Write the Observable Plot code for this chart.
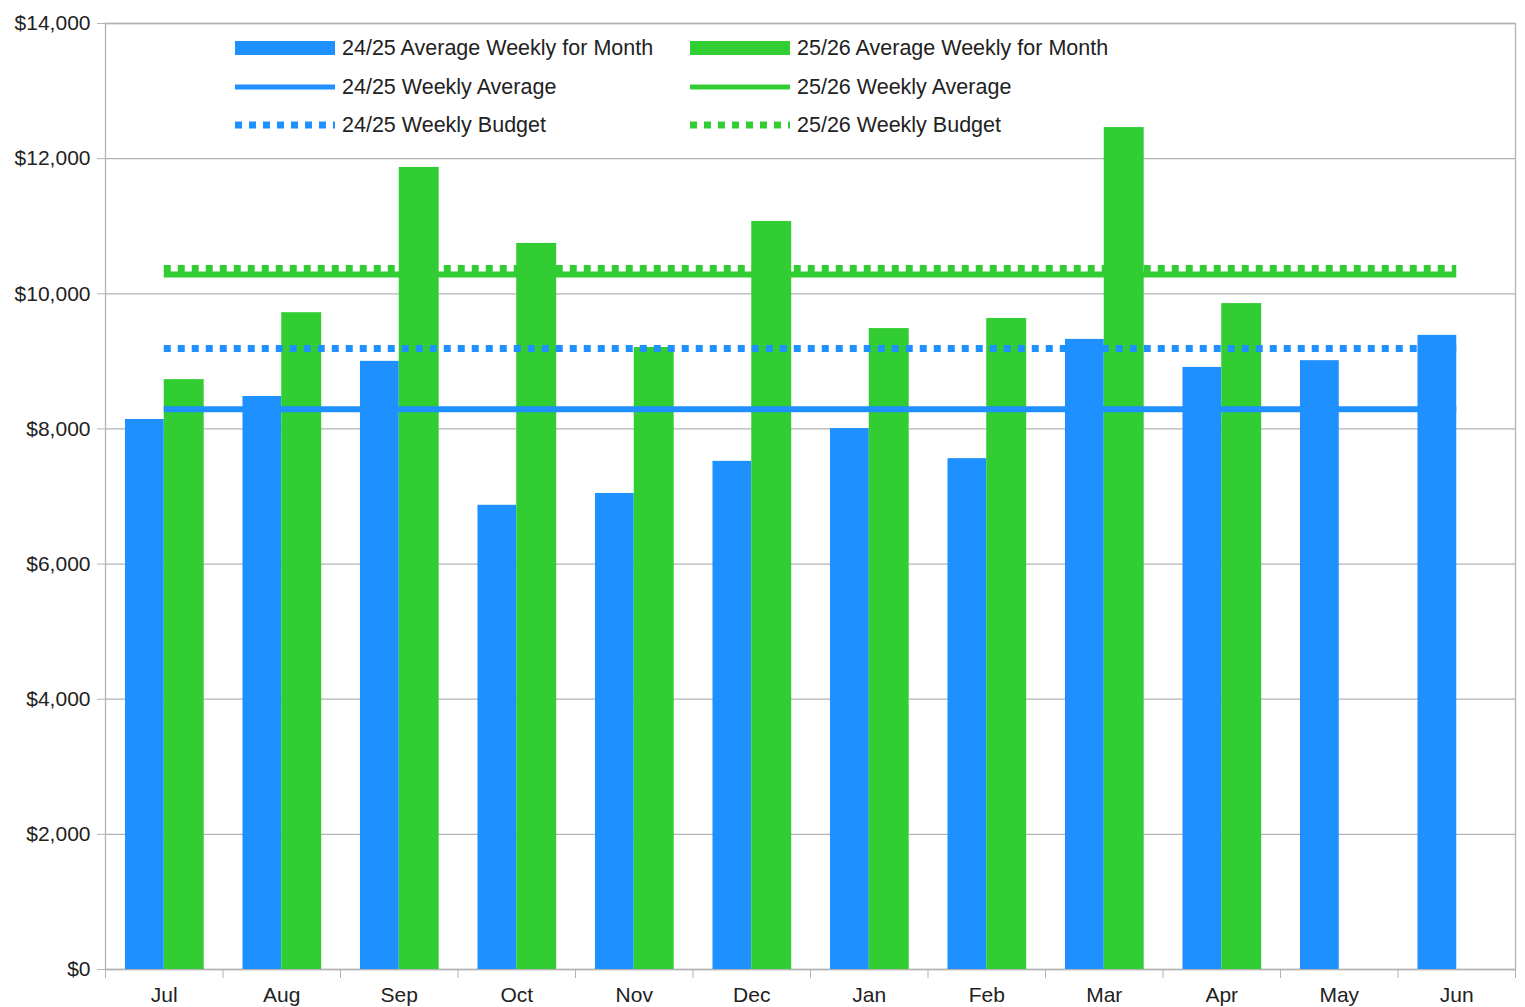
<!DOCTYPE html>
<html>
<head>
<meta charset="utf-8">
<script src="https://cdn.jsdelivr.net/npm/d3@7"></script>
<script src="https://cdn.jsdelivr.net/npm/@observablehq/plot@0.6"></script>
<style>
  body { margin: 0; background: #fff; }
  #wrap { position: relative; width: 1525px; height: 1007px; overflow: hidden; font-family: "Liberation Sans", Arial, sans-serif; }
  #legend { position: absolute; left: 0; top: 0; }
  .item { position: absolute; display: flex; align-items: center; height: 30px; font-size: 21.5px; color: #222; white-space: nowrap; }
  .item svg { margin-right: 7px; }
</style>
</head>
<body>
<div id="wrap"><div id="legend"></div></div>
<script>
const months = ["Jul", "Aug", "Sep", "Oct", "Nov", "Dec", "Jan", "Feb", "Mar", "Apr", "May", "Jun"];
const avgWeeklyForMonth2425 = [8140, 8480, 9000, 6870, 7045, 7520, 8005, 7560, 9325, 8910, 9010, 9385];
const avgWeeklyForMonth2526 = [8730, 9720, 11870, 10745, 9205, 11070, 9485, 9635, 12460, 9855, null, null];
const weeklyAverage2425 = 8290;
const weeklyBudget2425 = 9190;
const weeklyAverage2526 = 10285;
const weeklyBudget2526 = 10375;
const yTicks = [0, 2000, 4000, 6000, 8000, 10000, 12000, 14000];

const blue = "#1E90FF";
const green = "#32CD32";
const grid = "#b3b3b3";

const rows = months.map((m, i) => ({i, m, v24: avgWeeklyForMonth2425[i], v25: avgWeeklyForMonth2526[i]}));
const last = months.length - 1;

const chart = Plot.plot({
  width: 1525,
  height: 1007,
  marginTop: 23,
  marginBottom: 38,
  marginLeft: 105,
  marginRight: 10,
  style: {fontFamily: "Liberation Sans, Arial, sans-serif", fontSize: "21px", color: "#222", background: "#fff"},
  x: {domain: [-0.5, last + 0.5], axis: null},
  y: {domain: [0, 14000], axis: null},
  marks: [
    Plot.gridY(yTicks, {stroke: grid, strokeOpacity: 1, strokeWidth: 1.3}),
    Plot.frame({stroke: grid, strokeWidth: 1.3}),
    Plot.axisY(yTicks, {tickFormat: d => "$" + d3.format(",")(d), tickSize: 8, tickPadding: 7, stroke: grid, fill: "#222"}),
    Plot.axisX(d3.range(months.length + 1).map(i => i - 0.5), {tickFormat: () => "", tickSize: 9, stroke: grid}),
    Plot.axisX(d3.range(months.length), {tickFormat: i => months[i], tickSize: 0, tickPadding: 18, fill: "#222"}),
    Plot.rectY(rows, {x1: d => d.i - 0.33, x2: d => d.i, y: "v24", fill: blue}),
    Plot.rectY(rows.filter(d => d.v25 != null), {x1: d => d.i, x2: d => d.i + 0.34, y: "v25", fill: green}),
    Plot.ruleY([weeklyAverage2425], {x1: 0, x2: last, stroke: blue, strokeWidth: 6}),
    Plot.ruleY([weeklyBudget2425], {x1: 0, x2: last, stroke: blue, strokeWidth: 7, strokeDasharray: "7,7"}),
    Plot.ruleY([weeklyAverage2526], {x1: 0, x2: last, stroke: green, strokeWidth: 6}),
    Plot.ruleY([weeklyBudget2526], {x1: 0, x2: last, stroke: green, strokeWidth: 7, strokeDasharray: "7,7"})
  ]
});
document.getElementById("wrap").prepend(chart);

const legendItems = [
  {label: "24/25 Average Weekly for Month", color: blue, w: 14, dash: null, col: 0, row: 0},
  {label: "24/25 Weekly Average", color: blue, w: 5, dash: null, col: 0, row: 1},
  {label: "24/25 Weekly Budget", color: blue, w: 7, dash: "7,7", col: 0, row: 2},
  {label: "25/26 Average Weekly for Month", color: green, w: 14, dash: null, col: 1, row: 0},
  {label: "25/26 Weekly Average", color: green, w: 5, dash: null, col: 1, row: 1},
  {label: "25/26 Weekly Budget", color: green, w: 7, dash: "7,7", col: 1, row: 2}
];
const colX = [235, 690];
const rowY = [48, 87, 125];
const legend = d3.select("#legend");
for (const it of legendItems) {
  const div = legend.append("div").attr("class", "item")
    .style("left", colX[it.col] + "px").style("top", (rowY[it.row] - 15) + "px");
  const s = div.append("svg").attr("width", 100).attr("height", 16);
  s.append("line").attr("x1", 0).attr("x2", 100).attr("y1", 8).attr("y2", 8)
    .attr("stroke", it.color).attr("stroke-width", it.w)
    .attr("stroke-dasharray", it.dash);
  div.append("span").text(it.label);
}
</script>
</body>
</html>
